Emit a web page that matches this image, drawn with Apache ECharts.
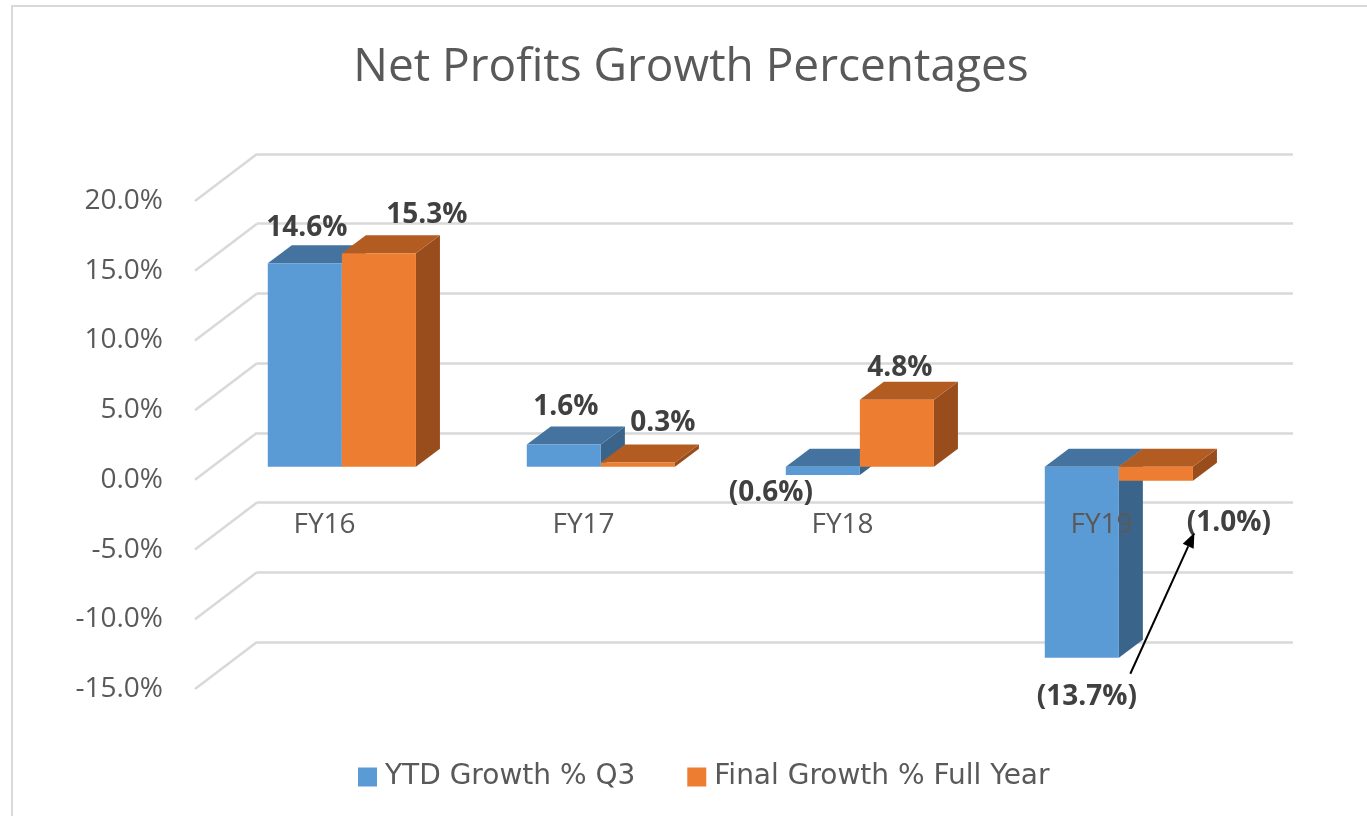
<!DOCTYPE html>
<html><head><meta charset="utf-8">
<script src="https://cdn.jsdelivr.net/npm/echarts@6/dist/echarts.min.js"></script>
<style>html,body{margin:0;padding:0;background:#fff}#c{width:1367px;height:816px}</style>
</head><body><div id="c"></div><script>
// ---- data ----
const categories = ['FY16', 'FY17', 'FY18', 'FY19'];
const ytdQ3 = [14.6, 1.6, -0.6, -13.7];
const finalFullYear = [15.3, 0.3, 4.8, -1.0];
const seriesNames = ['YTD Growth % Q3', 'Final Growth % Full Year'];
const yTicks = [-15, -10, -5, 0, 5, 10, 15, 20];
const Y_MIN = -15, Y_MAX = 20, Y_STEP = 5;

// ---- styling / geometry constants ----
const FONT = 'Open Sans';
const PLANE_W = 1036, PLANE_H = 488;
const BACK = { left: 257, top: 154 };
const DEPTH = [-62, 47];          // back wall -> front edge
const BAR_PLANE = 0.72;           // fraction of depth from back wall to bar front faces
const BAR_DEPTH = [24, -18];      // box depth of each bar
const BAR_FRAC = 0.286;           // bar width / category band
const COLORS = [
  { front: '#5B9BD5', top: '#44739F', side: '#3A6489' },
  { front: '#ED7D31', top: '#B35C22', side: '#994C1C' }
];
// label placement, [dx, dy] from the centre of the bar's front end
const labelNudge = {
  '0-0': [2, -35], '1-0': [48, -38],
  '0-1': [2, -37], '1-1': [25, -39],
  '0-2': [-52, 18], '1-2': [3, -32],
  '0-3': [5, 39], '1-3': [73, 42]
};
const fmt = v => v < 0 ? '(' + Math.abs(v).toFixed(1) + '%)' : v.toFixed(1) + '%';

const values = [ytdQ3, finalFullYear];
const barGrid = { left: BACK.left + DEPTH[0] * BAR_PLANE, top: BACK.top + DEPTH[1] * BAR_PLANE };
const frontGrid = { left: BACK.left + DEPTH[0], top: BACK.top + DEPTH[1] };
// category axis sits on the 0% level of the front edge
const zeroOffset = -PLANE_H * (0 - Y_MIN) / (Y_MAX - Y_MIN);

function gridOf(p) { return { left: p.left, top: p.top, width: PLANE_W, height: PLANE_H, containLabel: false }; }
function yAx(i, extra) {
  return Object.assign({
    type: 'value', gridIndex: i, min: Y_MIN, max: Y_MAX, interval: Y_STEP,
    axisLine: { show: false }, axisTick: { show: false },
    axisLabel: { show: false }, splitLine: { show: false }
  }, extra || {});
}
function xAx(i, extra) {
  return Object.assign({
    type: 'category', gridIndex: i, data: categories, boundaryGap: true,
    axisLine: { show: false, onZero: false }, axisTick: { show: false },
    axisLabel: { show: false }, splitLine: { show: false }
  }, extra || {});
}

function barRenderer(s) {
  return function (params, api) {
    const ci = api.value(0), v = api.value(1);
    const c0 = api.coord([ci, 0]), c1 = api.coord([ci, v]);
    const bw = api.size([1, 0])[0] * BAR_FRAC;
    const x0 = s === 0 ? c0[0] - bw : c0[0];
    const x1 = x0 + bw;
    const yT = Math.min(c0[1], c1[1]), yB = Math.max(c0[1], c1[1]);
    const [dx, dy] = BAR_DEPTH;
    const col = COLORS[s];
    return {
      type: 'group',
      children: [
        { type: 'polygon', shape: { points: [[x1, yT], [x1, yB], [x1 + dx, yB + dy], [x1 + dx, yT + dy]] }, style: { fill: col.side } },
        { type: 'polygon', shape: { points: [[x0, yT], [x1, yT], [x1 + dx, yT + dy], [x0 + dx, yT + dy]] }, style: { fill: col.top } },
        { type: 'rect', shape: { x: x0, y: yT, width: bw, height: yB - yT }, style: { fill: col.front } }
      ]
    };
  };
}

function labelPos(api, ci, v, s) {
  const c0 = api.coord([ci, 0]), c1 = api.coord([ci, v]);
  const bw = api.size([1, 0])[0] * BAR_FRAC;
  const cx = s === 0 ? c0[0] - bw / 2 : c0[0] + bw / 2;
  const n = labelNudge[s + '-' + ci] || [0, v < 0 ? 38 : -36];
  return [cx + n[0], c1[1] + n[1]];
}

const labelData = [];
values.forEach((arr, s) => arr.forEach((v, ci) => labelData.push([ci, v, s])));

const chart = echarts.init(document.getElementById('c'));
chart.setOption({
  animation: false,
  backgroundColor: '#fff',
  title: {
    text: 'Net Profits Growth Percentages', left: 691, top: 42, textAlign: 'center', padding: 0,
    textStyle: { fontFamily: FONT, fontSize: 46, fontWeight: 'normal', color: '#595959', lineHeight: 52 }
  },
  legend: {
    data: seriesNames, left: 353, top: 758, icon: 'rect', itemWidth: 19, itemHeight: 19, itemGap: 52,
    textStyle: { fontFamily: 'DejaVu Sans', fontSize: 28, color: '#595959', padding: [0, 0, 0, 3], lineHeight: 22 }
  },
  graphic: [{ type: 'rect', shape: { x: 12, y: 6, width: 1420, height: 900 }, style: { fill: 'none', stroke: '#d9d9d9', lineWidth: 2 }, silent: true, z: -10 }],
  grid: [gridOf(frontGrid), gridOf(barGrid), gridOf(BACK)],
  xAxis: [
    xAx(0, {
      z: 6, offset: zeroOffset,
      axisLabel: { show: true, margin: 31, fontFamily: FONT, fontSize: 28, color: '#595959', lineHeight: 28 }
    }),
    xAx(1), xAx(2)
  ],
  yAxis: [
    yAx(0, { axisLabel: { show: true, margin: 32, fontFamily: FONT, fontSize: 28, color: '#595959', formatter: v => v.toFixed(1) + '%' } }),
    yAx(1),
    yAx(2, { splitLine: { show: true, lineStyle: { color: '#d9d9d9', width: 2.5 } } })
  ],
  series: [
    {
      type: 'custom', name: 'wall', xAxisIndex: 2, yAxisIndex: 2, silent: true, z: 1,
      data: yTicks.map(v => [0, v]),
      renderItem: function (params, api) {
        const p = api.coord([0, api.value(1)]);
        const x = params.coordSys.x;
        return { type: 'line', shape: { x1: x, y1: p[1], x2: x + DEPTH[0], y2: p[1] + DEPTH[1] }, style: { stroke: '#d9d9d9', lineWidth: 2.5 } };
      }
    },
    {
      type: 'custom', name: seriesNames[0], xAxisIndex: 1, yAxisIndex: 1, z: 3,
      itemStyle: { color: COLORS[0].front },
      data: ytdQ3.map((v, i) => [i, v]), renderItem: barRenderer(0)
    },
    {
      type: 'custom', name: seriesNames[1], xAxisIndex: 1, yAxisIndex: 1, z: 3,
      itemStyle: { color: COLORS[1].front },
      data: finalFullYear.map((v, i) => [i, v]), renderItem: barRenderer(1)
    },
    {
      type: 'custom', name: 'labels', xAxisIndex: 1, yAxisIndex: 1, z: 10, silent: true,
      data: labelData,
      renderItem: function (params, api) {
        const ci = api.value(0), v = api.value(1), s = api.value(2);
        const p = labelPos(api, ci, v, s);
        return { type: 'text', x: p[0], y: p[1], style: { text: fmt(v), fill: '#404040', font: 'bold 28px "' + FONT + '"', align: 'center', verticalAlign: 'middle' } };
      }
    },
    {
      type: 'custom', name: 'arrow', xAxisIndex: 1, yAxisIndex: 1, z: 11, silent: true,
      data: [[3, ytdQ3[3], finalFullYear[3]]],
      renderItem: function (params, api) {
        const ci = api.value(0);
        const a = labelPos(api, ci, api.value(1), 0), b = labelPos(api, ci, api.value(2), 1);
        const sx = a[0] + 43.5, sy = a[1] - 23, tx = b[0] - 34.5, ty = b[1] + 10;
        const ang = Math.atan2(ty - sy, tx - sx), L = 15, W = 6;
        const bx = tx - L * Math.cos(ang), by = ty - L * Math.sin(ang);
        const px = -Math.sin(ang) * W, py = Math.cos(ang) * W;
        return {
          type: 'group', children: [
            { type: 'line', shape: { x1: sx, y1: sy, x2: bx, y2: by }, style: { stroke: '#000', lineWidth: 2 } },
            { type: 'polygon', shape: { points: [[tx, ty], [bx + px, by + py], [bx - px, by - py]] }, style: { fill: '#000' } }
          ]
        };
      }
    }
  ]
});
</script></body></html>
